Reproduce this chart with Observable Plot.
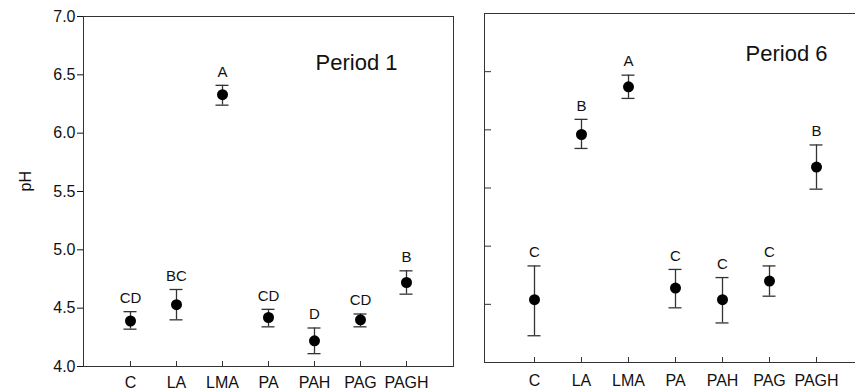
<!DOCTYPE html>
<html>
<head>
<meta charset="utf-8">
<script src="https://cdn.jsdelivr.net/npm/d3@7"></script>
<script src="https://cdn.jsdelivr.net/npm/@observablehq/plot@0.6"></script>
<style>
  html, body { margin: 0; padding: 0; background: #fff; }
  #wrap { position: relative; width: 855px; height: 392px; overflow: hidden; }
  #p1 { position: absolute; left: 0; top: 0; width: 470px; }
  #p6 { position: absolute; left: 400px; top: 0; width: 500px; }
  #wrap svg { max-width: none !important; }
</style>
</head>
<body>
<div id="wrap"><div id="p1"></div><div id="p6"></div></div>
<script>
const categories = ["C", "LA", "LMA", "PA", "PAH", "PAG", "PAGH"];
const yTicks = [4.0, 4.5, 5.0, 5.5, 6.0, 6.5, 7.0];

const p1Mean = [4.39, 4.53, 6.33, 4.42, 4.22, 4.40, 4.72];
const p1Lo   = [4.32, 4.40, 6.24, 4.34, 4.11, 4.34, 4.62];
const p1Hi   = [4.47, 4.66, 6.41, 4.49, 4.33, 4.45, 4.82];
const p1Groups = ["CD", "BC", "A", "CD", "D", "CD", "B"];

const p6Mean = [4.54, 5.96, 6.37, 4.64, 4.54, 4.70, 5.68];
const p6Lo   = [4.23, 5.84, 6.27, 4.47, 4.34, 4.57, 5.49];
const p6Hi   = [4.83, 6.09, 6.47, 4.80, 4.73, 4.83, 5.87];
const p6Groups = ["C", "B", "A", "C", "C", "C", "B"];

const font = "'Liberation Sans', Arial, Helvetica, sans-serif";
const ink = "#333";

function rows(mean, lo, hi, groups) {
  return categories.map((c, i) => ({cat: c, mean: mean[i], lo: lo[i], hi: hi[i], grp: groups[i]}));
}

function panel({data, title, width, height, ml, mr, mt, mb, titleDx, titleDy, showY, xPad}) {
  const fw = width - ml - mr;
  const fh = height - mt - mb;
  const marks = [
    Plot.frame({stroke: ink, strokeWidth: 1}),
    Plot.ruleX(categories, {x: d => d, insetTop: fh - 5, stroke: ink}),
    Plot.ruleX(data, {x: "cat", y1: "lo", y2: "hi", stroke: ink, strokeWidth: 1.3}),
    Plot.ruleY(data, {x1: "cat", x2: "cat", y: "lo", insetLeft: -6.5, insetRight: -6.5, stroke: ink, strokeWidth: 1.3}),
    Plot.ruleY(data, {x1: "cat", x2: "cat", y: "hi", insetLeft: -6.5, insetRight: -6.5, stroke: ink, strokeWidth: 1.3}),
    Plot.dot(data, {x: "cat", y: "mean", r: 5.5, fill: "#000", stroke: "none"}),
    Plot.text(data, {x: "cat", y: "hi", text: "grp", dy: -13.5, lineAnchor: "middle", fontSize: 15, fill: "#111", fontFamily: font}),
    Plot.text([title], {text: d => d, frameAnchor: "top-right", textAnchor: "end", lineAnchor: "middle", dx: titleDx, dy: titleDy, fontSize: 22, fill: "#111", fontFamily: font})
  ];
  if (showY) {
    marks.push(Plot.text(["pH"], {text: d => d, frameAnchor: "left", dx: -58, rotate: -90, lineAnchor: "middle", fontSize: 16, fill: "#111", fontFamily: font}));
  } else {
    marks.push(Plot.ruleY(yTicks, {y: d => d, insetRight: fw - 7, stroke: ink}));
  }
  return Plot.plot({
    width, height,
    marginLeft: ml, marginRight: mr, marginTop: mt, marginBottom: mb,
    style: {fontSize: "16px", fontFamily: font, color: "#111", background: "transparent", maxWidth: "none"},
    x: {type: "point", domain: categories, padding: 1, tickSize: 0, tickPadding: xPad, label: null},
    y: showY
      ? {domain: [4, 7], ticks: yTicks, tickFormat: d3.format(".1f"), tickSize: 6, tickPadding: 2, label: null}
      : {domain: [4, 7], axis: null},
    marks
  });
}

document.getElementById("p1").appendChild(panel({
  data: rows(p1Mean, p1Lo, p1Hi, p1Groups), title: "Period 1",
  width: 470, height: 392, ml: 83, mr: 17, mt: 16, mb: 26,
  titleDx: -56, titleDy: 46, showY: true, xPad: 10
}));
document.getElementById("p6").appendChild(panel({
  data: rows(p6Mean, p6Lo, p6Hi, p6Groups), title: "Period 6",
  width: 500, height: 392, ml: 84, mr: 35, mt: 13, mb: 30,
  titleDx: -38, titleDy: 40, showY: false, xPad: 12
}));
</script>
</body>
</html>
